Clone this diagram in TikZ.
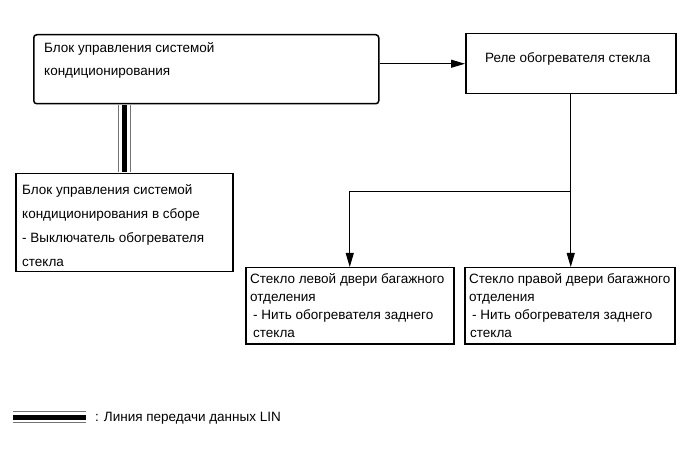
\documentclass[tikz,border=0pt]{standalone}
\usepackage{fontspec}
\setmainfont{Liberation Sans}
\usetikzlibrary{positioning,arrows.meta}

\begin{document}
\begin{tikzpicture}[x=1pt, y=-1pt,
  box/.style={draw, line width=1.5pt, rectangle, inner sep=0pt, anchor=north west},
  txt/.style={inner sep=0pt, align=left, anchor=north west},
  arr/.style={-{Triangle[length=14pt,width=8pt]}, line width=1pt},
  lin/.style={line width=5pt, preaction={draw=black!55, line width=12.5pt}, preaction={draw=white, line width=10.5pt}}]

\useasboundingbox (0,0) rectangle (691,465);

% Boxes
\node[box, rounded corners=3pt, minimum width=345pt, minimum height=69pt] (ecu) at (33,34) {};
\node[box, minimum width=210pt, minimum height=60pt] (relay) at (465,33) {};
\node[box, minimum width=217pt, minimum height=98pt] (panel) at (15,173) {};
\node[box, minimum width=208pt, minimum height=76pt] (glassL) at (245,267) {};
\node[box, minimum width=210pt, minimum height=76pt] (glassR) at (464,267) {};

% Texts in the boxes
\node[txt, font=\fontsize{13.5}{23}\selectfont, below right=8pt and 11pt of ecu.north west] (ecu-t)
  {Блок управления системой\\кондиционирования};
\node[inner sep=0pt, font=\fontsize{13.5}{16}\selectfont, below=19pt of relay.north, xshift=-3pt] (relay-t)
  {Реле обогревателя стекла};
\node[txt, font=\fontsize{13.5}{24}\selectfont, below right=11pt and 7pt of panel.north west] (panel-t)
  {Блок управления системой\\кондиционирования в сборе\\- Выключатель обогревателя\\стекла};
\node[txt, font=\fontsize{13.5}{18}\selectfont, below right=6pt and 5pt of glassL.north west] (glassL-t)
  {Стекло левой двери багажного\\отделения\\\hspace*{3pt}- Нить обогревателя заднего\\\hspace*{3pt}стекла};
\node[txt, font=\fontsize{13.5}{18}\selectfont, below right=6pt and 5pt of glassR.north west] (glassR-t)
  {Стекло правой двери багажного\\отделения\\\hspace*{3pt}- Нить обогревателя заднего\\\hspace*{1pt}стекла};

% Arrows
\coordinate (split) at (relay.south |- 0,192);
\draw[arr] (ecu.east |- relay.west) -- (relay.west);
\draw[line width=1pt] (relay.south) -- (split);
\draw[arr] (split) -| (glassL.north);
\draw[arr] (split) -- (split |- glassR.north);

% LIN line
\draw[lin, shorten <=0.8pt, shorten >=0.8pt] (panel.north |- ecu.south) -- (panel.north);

% Legend
\node[inner sep=0pt, anchor=west, font=\fontsize{13.5}{16}\selectfont] (legend) at (95,418) {: Линия передачи данных LIN};
\coordinate (lin-a) at (13,417);
\coordinate (lin-b) at (86,417);
\draw[lin] (lin-a) -- (lin-b);

\end{tikzpicture}
\end{document}
